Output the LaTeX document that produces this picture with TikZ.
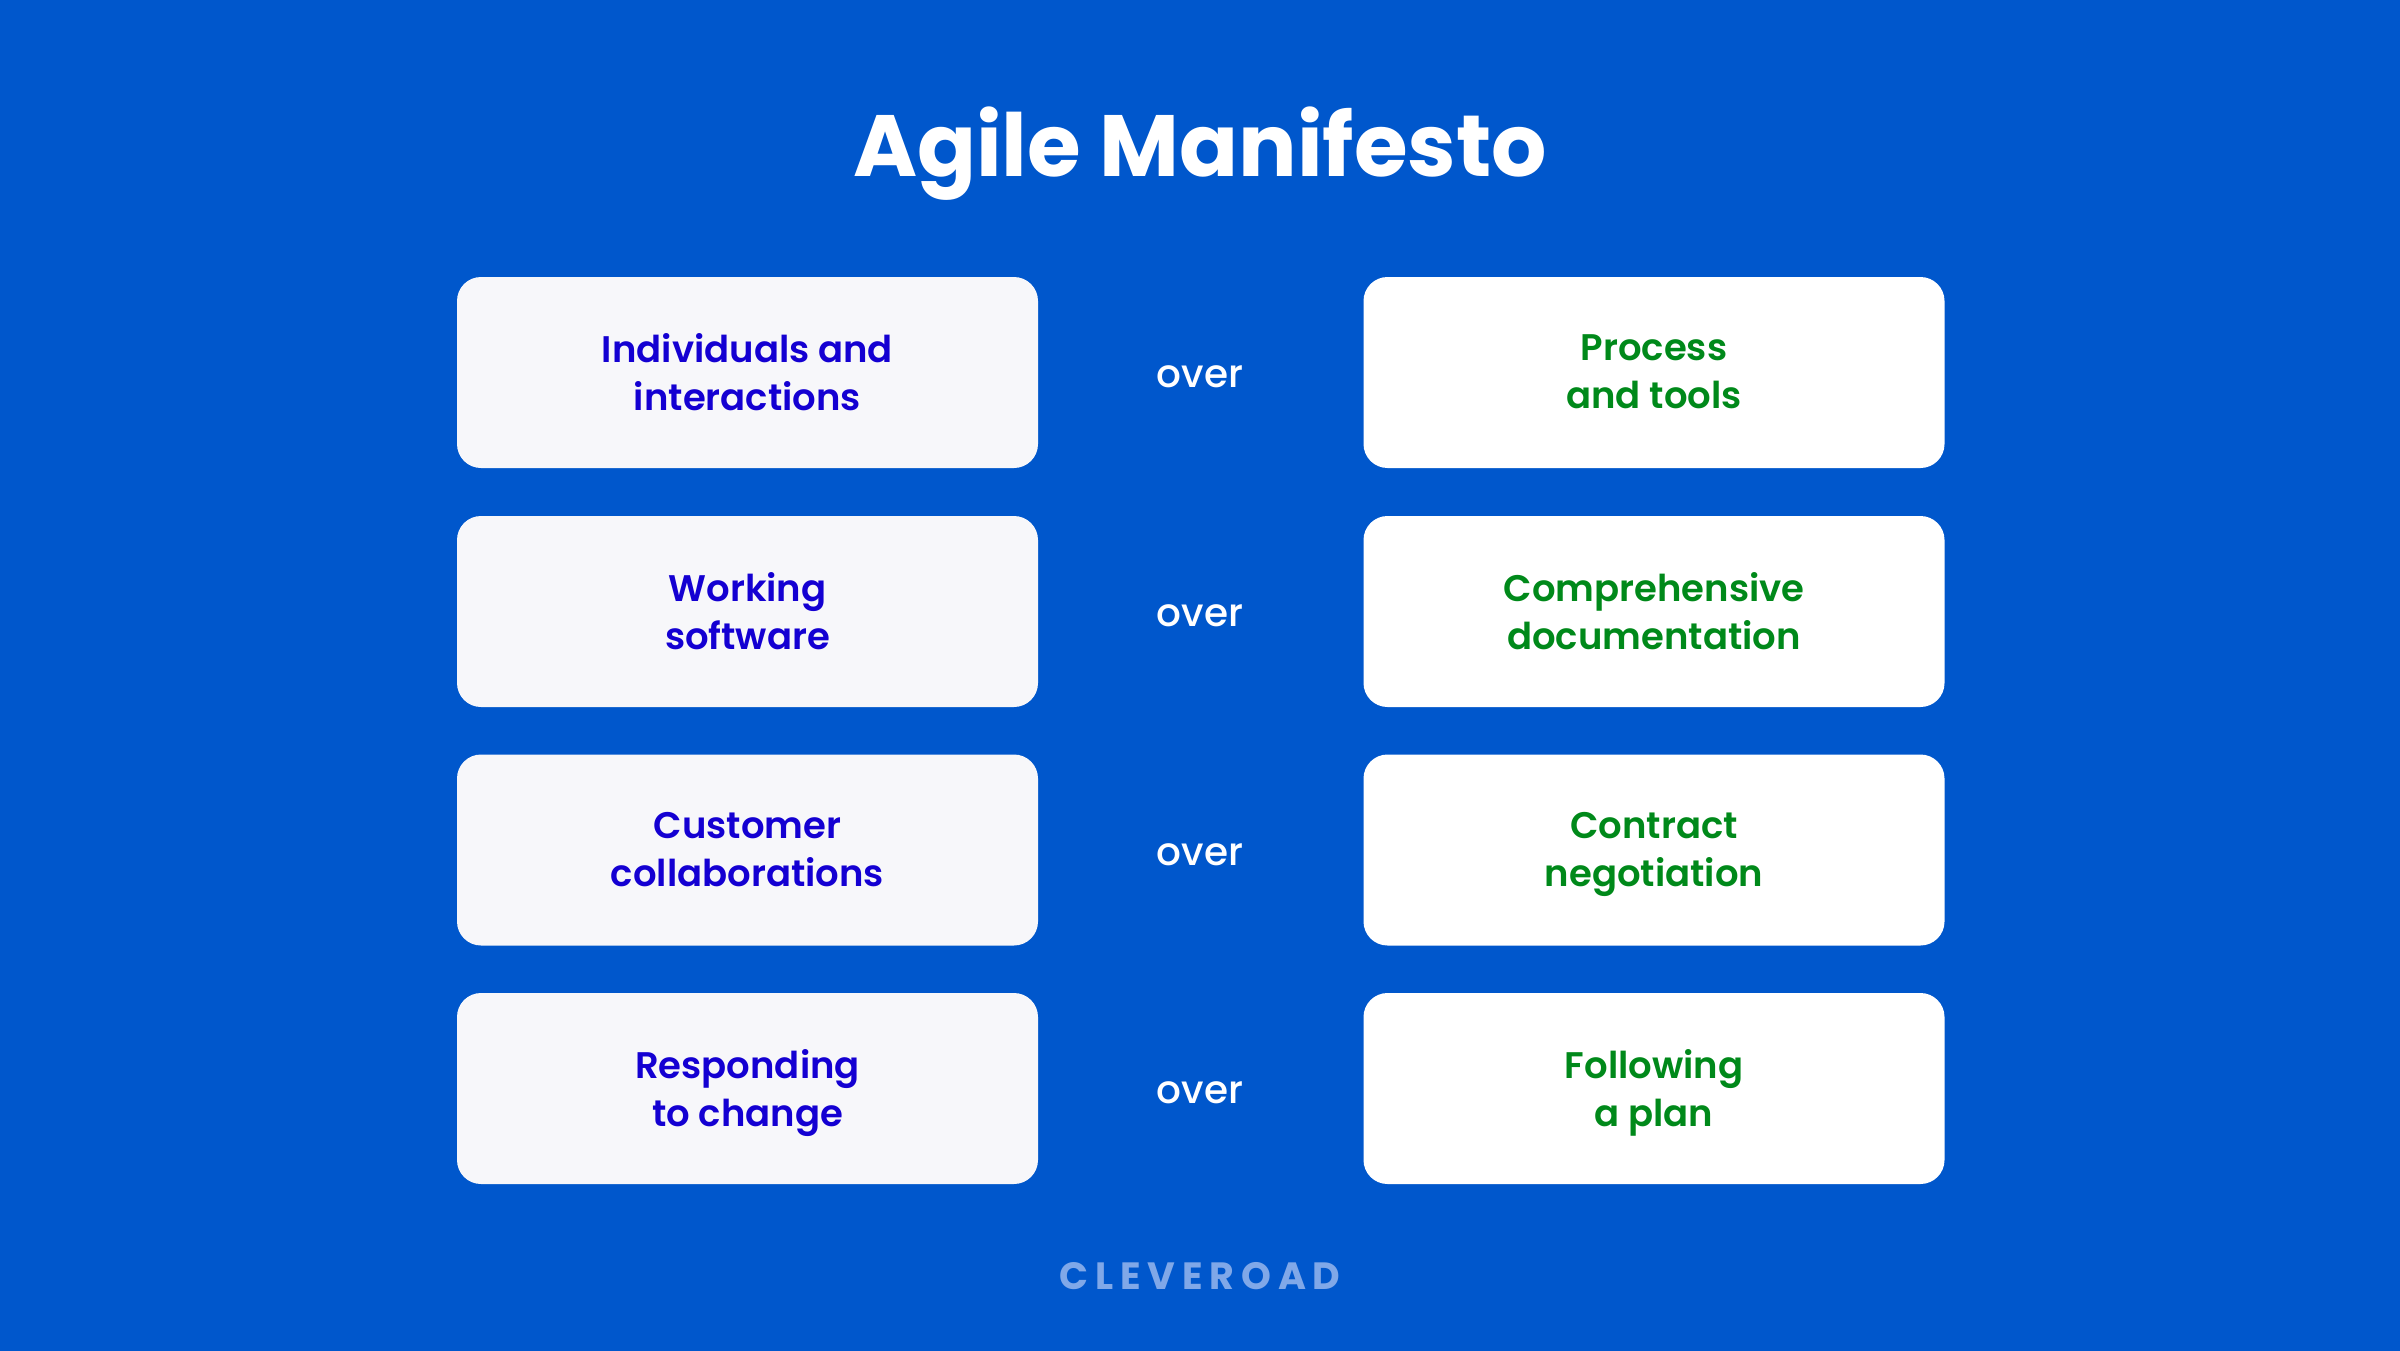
\documentclass[tikz,border=0pt]{standalone}
\usepackage{fontspec}
\setmainfont{Poppins}
\newfontfamily\ptitle{Poppins Bold}
\newfontfamily\psemi{Poppins SemiBold}
\newfontfamily\pmed{Poppins Medium}
\newfontfamily\plogo{Poppins Bold}[LetterSpace=18]
\definecolor{bgblue}{HTML}{0057CC}
\definecolor{leftfill}{HTML}{F7F7FA}
\definecolor{lefttext}{HTML}{1400D2}
\definecolor{righttext}{HTML}{00891A}
\definecolor{logoblue}{HTML}{80A8E8}
\tikzset{
  card/.style={rectangle, rounded corners=24pt, minimum width=581pt, minimum height=191pt, inner sep=0pt},
  leftcard/.style={card, fill=leftfill},
  rightcard/.style={card, fill=white},
  cardtxt/.style={inner sep=0pt, align=center, yshift=-6.4pt,
    font=\psemi\fontsize{37}{48}\selectfont,
    execute at begin node=\strut, execute at end node=\strut},
  lefttxt/.style={cardtxt, text=lefttext},
  righttxt/.style={cardtxt, text=righttext},
  overlbl/.style={text=white, font=\pmed\fontsize{39}{45}\selectfont, inner sep=0pt},
}
\begin{document}
\begin{tikzpicture}[x=1pt,y=-1pt]
\fill[bgblue] (0,0) rectangle (2400,1351);
\useasboundingbox (0,0) rectangle (2400,1351);
\node[text=white, font=\ptitle\fontsize{87}{95}\selectfont, anchor=base] (title) at (1200,177) {Agile Manifesto};
% cards
\node[leftcard] (l1) at (747.5,372.5) {};
\node[rightcard] (r1) at (1654,372.5) {};
\node[leftcard] (l2) at (747.5,611.5) {};
\node[rightcard] (r2) at (1654,611.5) {};
\node[leftcard] (l3) at (747.5,850) {};
\node[rightcard] (r3) at (1654,850) {};
\node[leftcard] (l4) at (747.5,1088.5) {};
\node[rightcard] (r4) at (1654,1088.5) {};
% texts
\node[lefttxt] (l1t) at (l1.center) {Individuals and\\interactions};
\node[righttxt] (r1t) at (r1.center) {Process\\and tools};
\node[lefttxt] (l2t) at (l2.center) {Working\\software};
\node[righttxt] (r2t) at (r2.center) {Comprehensive\\documentation};
\node[lefttxt] (l3t) at (l3.center) {Customer\\collaborations};
\node[righttxt] (r3t) at (r3.center) {Contract\\negotiation};
\node[lefttxt] (l4t) at (l4.center) {Responding\\to change};
\node[righttxt] (r4t) at (r4.center) {Following\\a plan};
% over labels
\node[overlbl] (o1) at (1200,377) {over};
\node[overlbl] (o2) at (1200,616) {over};
\node[overlbl] (o3) at (1200,854.5) {over};
\node[overlbl] (o4) at (1200,1093) {over};
\node[text=logoblue, font=\plogo\fontsize{38}{40}\selectfont, anchor=base] (logo) at (1200,1289) {CLEVEROAD};
\end{tikzpicture}
\end{document}
